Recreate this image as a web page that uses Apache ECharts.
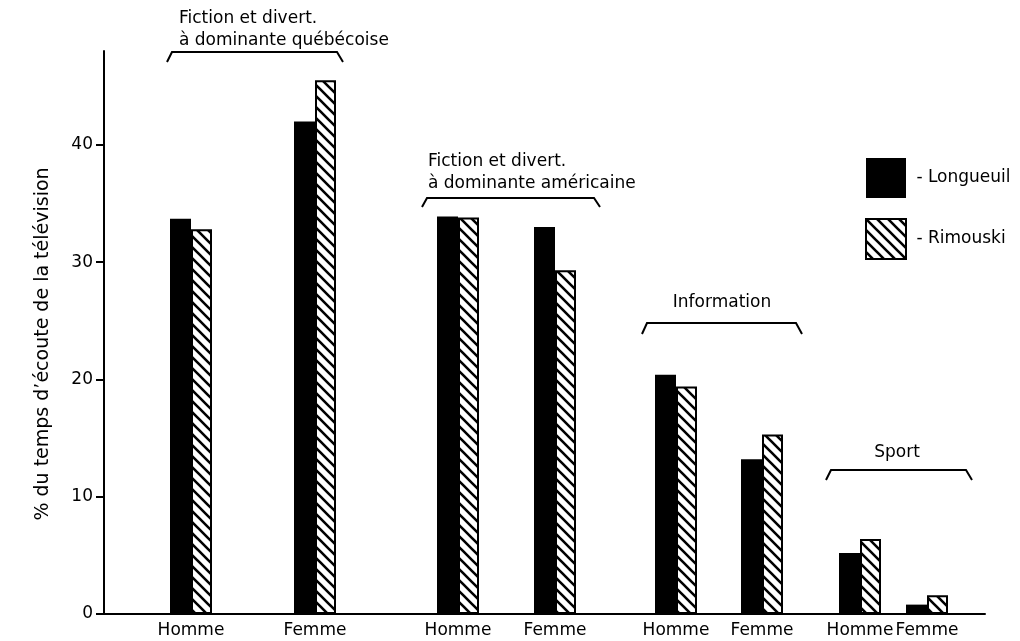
<!DOCTYPE html>
<html>
<head>
<meta charset="utf-8">
<script src="https://cdn.jsdelivr.net/npm/echarts@6/dist/echarts.min.js"></script>
<style>html,body{margin:0;padding:0;background:#fff}#c{width:1020px;height:641px}</style>
</head>
<body>
<div id="c"></div>
<script>
// ---- data ----
const categories = ['Homme', 'Femme'];
const groupNames = ['Fiction et divert.\nà dominante québécoise', 'Fiction et divert.\nà dominante américaine', 'Information', 'Sport'];
const longueuil = [33.7, 42.0, 33.9, 33.0, 20.4, 13.2, 5.2, 0.8];
const rimouski  = [32.8, 45.5, 33.8, 29.3, 19.4, 15.3, 6.4, 1.6];
const yTicks = [0, 10, 20, 30, 40];
const yTitle = '% du temps d\u2019écoute de la télévision';
const seriesNames = ['Longueuil', 'Rimouski'];

// ---- layout ----
const FONT = 'DejaVu Sans';
const TOP = 51, BOTTOM = 27, YMAX = 48;
const slots = [[129, 248], [409.5, 194], [633, 172], [826.5, 134]];

// hatch pattern
const tile = document.createElement('canvas');
tile.width = 11; tile.height = 11;
const g = tile.getContext('2d');
g.fillStyle = '#fff'; g.fillRect(0, 0, 11, 11);
g.strokeStyle = '#000'; g.lineWidth = 2.6;
g.beginPath();
g.moveTo(-2, -2); g.lineTo(13, 13);
g.moveTo(-2, 9); g.lineTo(2, 13);
g.moveTo(9, -2); g.lineTo(13, 2);
g.stroke();
const hatch = { image: tile, repeat: 'repeat' };

const grids = [{ left: 104, right: 35, top: TOP, bottom: BOTTOM }];
const xAxes = [{
  gridIndex: 0, type: 'value', min: 0, max: 1,
  axisLine: { show: true, lineStyle: { color: '#000', width: 2 } },
  axisTick: { show: false }, axisLabel: { show: false }, splitLine: { show: false }
}];
const yAxes = [{
  gridIndex: 0, type: 'value', min: 0, max: YMAX,
  axisLine: { show: true, lineStyle: { color: '#000', width: 2 } },
  axisTick: { show: true, length: 8, customValues: yTicks, lineStyle: { color: '#000', width: 2 } },
  axisLabel: { customValues: yTicks, margin: 11, fontFamily: FONT, fontSize: 17, color: '#000' },
  splitLine: { show: false }
}];
const series = [];
slots.forEach((s, i) => {
  grids.push({ left: s[0], width: s[1], top: TOP, bottom: BOTTOM });
  xAxes.push({
    gridIndex: i + 1, type: 'category', data: categories,
    axisLine: { show: false }, axisTick: { show: false },
    axisLabel: { interval: 0, margin: 8, fontFamily: FONT, fontSize: 17, color: '#000' }
  });
  yAxes.push({ gridIndex: i + 1, type: 'value', min: 0, max: YMAX, show: false });
  series.push({
    type: 'bar', name: seriesNames[0], xAxisIndex: i + 1, yAxisIndex: i + 1,
    data: longueuil.slice(2 * i, 2 * i + 2), barWidth: 21, barGap: '0%',
    itemStyle: { color: '#000' }, animation: false
  });
  series.push({
    type: 'bar', name: seriesNames[1], xAxisIndex: i + 1, yAxisIndex: i + 1,
    data: rimouski.slice(2 * i, 2 * i + 2), barWidth: 21, barGap: '0%',
    itemStyle: { color: hatch, borderColor: '#000', borderWidth: 2 }, animation: false
  });
});

function bracket(x1, x2, y, drop) {
  return {
    type: 'polyline',
    shape: { points: [[x1, y + drop], [x1 + 5, y], [x2 - 6, y], [x2, y + drop]] },
    style: { stroke: '#000', lineWidth: 2, fill: null }
  };
}
function label(text, x, y, align) {
  return {
    type: 'text', x: x, y: y,
    style: { text: text, fontFamily: FONT, fontSize: 17, fill: '#000', align: align || 'left', verticalAlign: 'top', lineHeight: 22 }
  };
}

const graphic = [
  {
    type: 'text', x: 43, y: 344, rotation: Math.PI / 2,
    style: { text: yTitle, fontFamily: FONT, fontSize: 19, fill: '#000', align: 'center', verticalAlign: 'middle' }
  },
  label(groupNames[0], 179, 8),
  bracket(167, 343, 52, 10),
  label(groupNames[1], 428, 151),
  bracket(422, 600, 198, 9),
  label(groupNames[2], 722, 292, 'center'),
  bracket(642, 802, 323, 11),
  label(groupNames[3], 897, 442, 'center'),
  bracket(826, 972, 470, 10)
];

const chart = echarts.init(document.getElementById('c'), null, { renderer: 'canvas' });
chart.setOption({
  backgroundColor: '#fff',
  animation: false,
  grid: grids, xAxis: xAxes, yAxis: yAxes, series: series,
  legend: {
    orient: 'vertical', left: 865, top: 158, padding: 0, itemWidth: 40, itemHeight: 40, itemGap: 20,
    icon: 'rect', data: seriesNames,
    formatter: n => ' - ' + n,
    textStyle: { fontFamily: FONT, fontSize: 17, color: '#000' }
  },
  graphic: graphic
});
</script>
</body>
</html>
